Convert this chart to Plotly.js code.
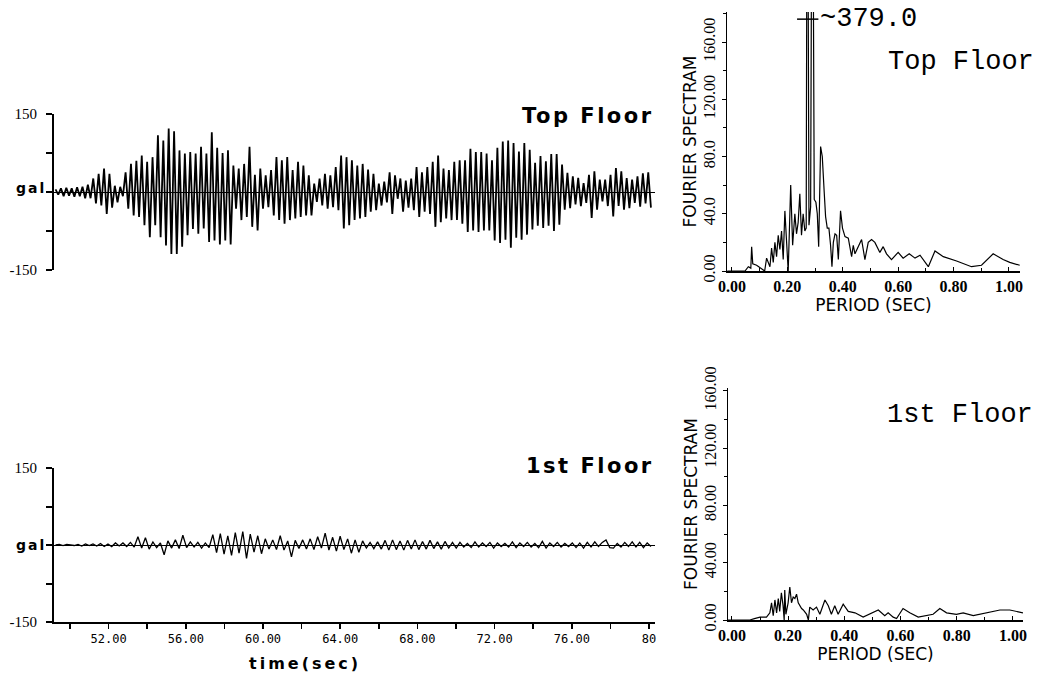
<!DOCTYPE html>
<html>
<head>
<meta charset="utf-8">
<script src="https://cdn.plot.ly/plotly-3.0.1.min.js"></script>
<style>html,body{margin:0;padding:0;background:#fff;}#chart{width:1040px;height:677px;}</style>
</head>
<body>
<div id="chart"></div>
<script>
// ---------- Data ----------
// Top floor acceleration: successive positive / negative peaks (gal), one pair per cycle
const topPeaks = [5,7,8,7,9,10, 14,26,35,45,35,12,10,38,54,60,70,58,67,109,99,122,117,80,74,77,74,87,
  74,115,85,75,80,51,45,54,87,33,45,32,42,67,61,67,42,58,51,32,16,26,35,32,48,70,
  67,61,51,54,43,35,16,20,38,32,26,22,26,48,38,48,58,70,45,42,58,61,61,83,77,77,74,61,
  85,97,99,94,78,94,81,56,69,59,73,73,53,37,30,27,17,33,40,24,24,33,46,40,27,24,30,36,
  38];
const topTroughs = [-5,-8,-7,-9,-8,-12, -12,-22,-26,-42,-30,-20,-8,-32,-45,-48,-64,-87,-64,-87,-103,-119,-119,-105,-83,-71,-80,-70,
  -96,-93,-101,-93,-101,-32,-54,-48,-67,-74,-32,-29,-45,-54,-61,-54,-51,-48,-45,-45,-19,-26,-32,-29,-35,-70,
  -64,-54,-51,-48,-38,-35,-26,-20,-42,-13,-38,-30,-35,-48,-38,-42,-67,-58,-51,-54,-54,-61,-77,-74,-77,-74,-74,-93,
  -98,-92,-107,-88,-92,-82,-72,-65,-69,-65,-75,-63,-34,-31,-24,-27,-21,-50,-34,-18,-27,-47,-27,-34,-31,-21,-28,-22,
  -30];
const recordStart = 49.25;   // sec
const recordEnd = 80.1;      // sec

// 1st floor acceleration samples (gal)
const firstFloorAcc = [0,1,-1,1,0,-1,1,-2,2,-1,2,-2,3,-3,2,-3,4,-2,4,-3,
  5,-4,16,-6,14,-8,6,-5,
  4,-19,8,-6,10,-7,19,-5,
  6,-4,5,-6,4,-5,
  20,-15,22,-18,18,-20,24,-16,26,-26,21,-14,18,-17,12,
  -8,10,-9,18,-10,8,-23,9,
  -7,10,-8,12,-9,16,-6,23,-10,15,-12,17,-9,
  12,-16,10,-14,8,-6,5,-7,6,
  -8,9,-10,10,-9,8,-10,9,-8,10,-9,7,-8,9,-7,6,-8,7,-6,5,-6,
  5,-4,3,-5,6,-4,4,-3,5,-6, 4,-3,3,-4,6,-5,4,-3,5,-4, 3,-5,7,-6,4,-3,5,-4,3,-3,
  4,-5,4,-6,5,-4,6,-3,5,10, -5,-6,3,-4,5,-3,6,-4,5,-5, 4,-3];

// Fourier spectrum, top floor
const topPeriod = [-0.017,0.047,0.059,0.068,0.071,0.075,0.089,0.113,0.118,0.125,0.137,0.143,0.149,0.155,0.161,0.167,0.173,0.179,0.185,0.191,
  0.197,0.203,0.212,0.219,0.227,0.233,0.239,0.245,0.251,0.257,0.263,0.268,0.272,0.278,0.284,0.290,0.297,0.303,0.308,0.313,
  0.320,0.326,0.333,0.338,0.344,0.350,0.356,0.361,0.366,0.372,0.378,0.384,0.392,0.399,0.408,0.420,0.432,0.438,0.444,0.456,
  0.468,0.480,0.492,0.504,0.516,0.534,0.546,0.558,0.576,0.600,0.618,0.640,0.661,0.679,0.709,0.733,0.763,0.811,0.835,0.865,
  0.901,0.943,0.979,1.003,1.039];
const topSpectrum = [0,0,3,2,17,5,4,1,0,9,3,16,6,20,10,25,15,28,8,42,
  15,0,60,18,40,26,34,54,25,40,28,30,379,32,45,379,50,48,40,17,
  87,80,55,38,30,30,18,3,20,26,25,8,42,30,24,23,10,18,12,17,
  22,8,20,22,20,13,17,12,8,13,9,12,9,11,3,14,10,7,5,3,
  4,12,8,6,4];
const topPeakLabel = "379.0";

// Fourier spectrum, 1st floor
const firstPeriod = [-0.014,0.064,0.08,0.10,0.123,0.135,0.141,0.147,0.153,0.159,0.165,0.170,0.176,0.182,0.186,0.188,0.192,0.200,0.206,0.212,
  0.218,0.224,0.230,0.236,0.248,0.254,0.266,0.272,0.277,0.289,0.301,0.313,0.331,0.343,0.354,0.366,0.378,0.396,0.414,0.438,
  0.467,0.491,0.521,0.544,0.556,0.574,0.586,0.609,0.633,0.663,0.693,0.716,0.740,0.764,0.799,0.823,0.859,0.906,0.954,0.989,1.036];
const firstSpectrum = [0,0,1,2,2,5,12,3,14,5,15,6,19,10,0,21,4,12,23,12,
  16,15,18,12,8,7,4,0,9,7,9,4,14,10,4,10,4,11,6,5,
  2,4,7,3,5,2,1,8,5,2,3,4,8,5,4,5,3,5,7,7,5];

// Tick labels
const timeTicks = [50,52,54,56,58,60,62,64,66,68,70,72,74,76,78,80];
const timeTickText = ['','52.00','','56.00','','60.00','','64.00','','68.00','','72.00','','76.00','','80'];
const accTicks = [-150,-75,0,75,150];
const accTickText = ['-150','','','','150'];
const periodTicks = [0,0.2,0.4,0.6,0.8,1.0];
const periodTickText = ['0.00','0.20','0.40','0.60','0.80','1.00'];
const specTicks = [0,40,80,120,160];
const topSpecTickText = ['0.00','40.0','80.0','120.00','160.00'];
const firstSpecTickText = ['0.00','40.00','80.00','120.00','160.00'];

// ---------- Build series ----------
const halfStep = (recordEnd - recordStart) / (2 * topPeaks.length - 1);
const topT = [], topA = [];
for (let i = 0; i < topPeaks.length; i++) {
  topT.push(recordStart + (2 * i) * halfStep); topA.push(topPeaks[i]);
  topT.push(recordStart + (2 * i + 1) * halfStep); topA.push(topTroughs[i]);
}
const stepB = (recordEnd - recordStart) / (firstFloorAcc.length - 1);
const firstT = firstFloorAcc.map((_, k) => recordStart + k * stepB);

const W = 1040, H = 677;
const px = v => v / W;
const py = v => 1 - v / H;

const traces = [
  {x: topT, y: topA, xaxis: 'x', yaxis: 'y', mode: 'lines', line: {color: 'black', width: 1.8}, hoverinfo: 'skip'},
  {x: firstT, y: firstFloorAcc, xaxis: 'x2', yaxis: 'y2', mode: 'lines', line: {color: 'black', width: 1.3}, hoverinfo: 'skip'},
  {x: topPeriod, y: topSpectrum, xaxis: 'x3', yaxis: 'y3', mode: 'lines', line: {color: 'black', width: 1.2}, hoverinfo: 'skip'},
  {x: firstPeriod, y: firstSpectrum, xaxis: 'x4', yaxis: 'y4', mode: 'lines', line: {color: 'black', width: 1.2}, hoverinfo: 'skip'}
];

const serif = 'Liberation Serif, Times New Roman, serif';
const leftY = (dom) => ({
  domain: dom, range: [-150, 150], showline: true, linecolor: 'black', linewidth: 2,
  ticks: 'outside', ticklen: 6, tickwidth: 2, tickcolor: 'black',
  tickvals: accTicks, ticktext: accTickText, ticklabelstandoff: 6,
  tickfont: {family: serif, size: 15, color: 'black'},
  zeroline: true, zerolinecolor: 'black', zerolinewidth: 1, showgrid: false, fixedrange: true
});
const titleFont = {family: 'DejaVu Sans, sans-serif', size: 17, color: 'black'};
const specX = (dom, rng, anchor) => ({
  domain: dom, range: rng, anchor: anchor, showline: true, linecolor: 'black', linewidth: 1.5,
  ticks: 'inside', ticklen: 4, tickcolor: 'black', tickvals: periodTicks, ticktext: periodTickText,
  minor: {dtick: 0.1, tick0: 0, ticks: 'inside', ticklen: 3, tickcolor: 'black'},
  tickfont: {family: serif, size: 16, color: 'black', weight: 'bold'}, showgrid: false, zeroline: false,
  title: {text: 'PERIOD (SEC)', font: titleFont, standoff: 0}
});
const specY = (dom, rng, anchor, txt) => ({
  domain: dom, range: rng, anchor: anchor, showline: true, linecolor: 'black', linewidth: 1.5,
  ticks: 'outside', ticklen: 4, tickcolor: 'black', tickvals: specTicks, ticktext: txt, tickangle: -90,
  minor: {dtick: 20, tick0: 0, ticks: 'outside', ticklen: 3, tickcolor: 'black'},
  tickfont: {family: serif, size: 16, color: 'black'}, showgrid: false, zeroline: false,
  title: {text: 'FOURIER SPECTRAM', font: titleFont, standoff: 0}
});

const boldSans = (size) => ({family: 'DejaVu Sans, sans-serif', size: size, color: 'black'});
const spaced = (txt, sp) => '<span style="letter-spacing:' + sp + 'px"><b>' + txt + '</b></span>';

const layout = {
  width: W, height: H, margin: {l: 0, r: 0, t: 0, b: 0},
  paper_bgcolor: 'white', plot_bgcolor: 'white', showlegend: false,
  xaxis: {domain: [px(54), px(655)], range: [49.17, 80.31], anchor: 'y', visible: false, fixedrange: true},
  yaxis: Object.assign(leftY([py(270), py(114)]), {anchor: 'x'}),
  xaxis2: {domain: [px(54), px(655)], range: [49.17, 80.31], anchor: 'y2', showline: true, linecolor: 'black', linewidth: 2,
    ticks: 'outside', ticklen: 5, tickwidth: 1.5, tickcolor: 'black', tickvals: timeTicks, ticktext: timeTickText,
    tickfont: {family: 'DejaVu Sans Mono, monospace', size: 12, color: 'black'}, showgrid: false, zeroline: false},
  yaxis2: Object.assign(leftY([py(622), py(468)]), {anchor: 'x2'}),
  xaxis3: specX([px(727), px(1020)], [-0.018, 1.040], 'y3'),
  yaxis3: specY([py(271), py(12)], [0, 181], 'x3', topSpecTickText),
  xaxis4: specX([px(728), px(1023)], [-0.014, 1.036], 'y4'),
  yaxis4: specY([py(620), py(388)], [0, 162], 'x4', firstSpecTickText),
  shapes: [
    {type: 'line', xref: 'x3', yref: 'y3', x0: 0.235, x1: 0.312, y0: 176, y1: 176, line: {color: 'black', width: 1.5}}
  ],
  annotations: [
    {text: spaced('Top Floor', 2.5), xref: 'paper', yref: 'paper', x: px(656), y: py(116), xanchor: 'right', yanchor: 'middle', showarrow: false,
      font: boldSans(21)},
    {text: spaced('1st Floor', 2.5), xref: 'paper', yref: 'paper', x: px(656), y: py(466), xanchor: 'right', yanchor: 'middle', showarrow: false,
      font: boldSans(21)},
    {text: spaced('gal', 2), xref: 'paper', yref: 'paper', x: px(31), y: py(188), xanchor: 'center', yanchor: 'middle', showarrow: false,
      font: boldSans(14)},
    {text: spaced('gal', 2), xref: 'paper', yref: 'paper', x: px(31), y: py(545), xanchor: 'center', yanchor: 'middle', showarrow: false,
      font: boldSans(14)},
    {text: spaced('time(sec)', 3), xref: 'paper', yref: 'paper', x: px(305), y: py(663), xanchor: 'center', yanchor: 'middle', showarrow: false,
      font: boldSans(16)},
    {text: 'Top Floor', xref: 'paper', yref: 'paper', x: px(1036), y: py(62), xanchor: 'right', yanchor: 'middle', showarrow: false,
      font: {family: 'Liberation Mono, Courier New, monospace', size: 27, color: 'black'}},
    {text: '1st Floor', xref: 'paper', yref: 'paper', x: px(1035), y: py(415), xanchor: 'right', yanchor: 'middle', showarrow: false,
      font: {family: 'Liberation Mono, Courier New, monospace', size: 27, color: 'black'}},
    {text: '~' + topPeakLabel, xref: 'x3', yref: 'y3', x: 0.312, y: 176, xanchor: 'left', yanchor: 'middle', showarrow: false,
      font: {family: 'Liberation Mono, Courier New, monospace', size: 27, color: 'black'}}
  ]
};

Plotly.newPlot('chart', traces, layout, {staticPlot: true, displayModeBar: false});
</script>
</body>
</html>
